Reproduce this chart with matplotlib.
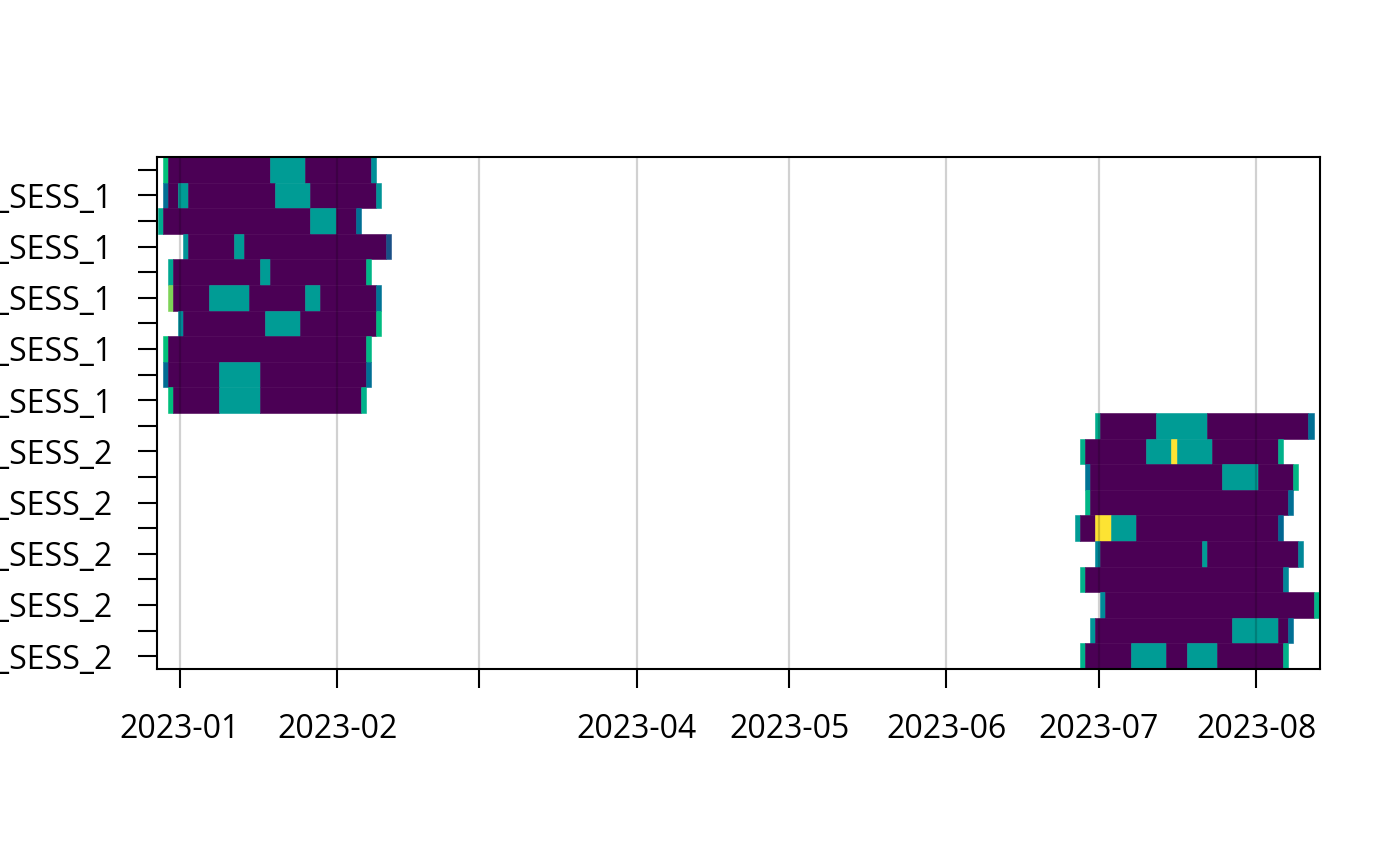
import datetime as dt

import numpy as np
import matplotlib
matplotlib.use("Agg")
import matplotlib.pyplot as plt
import matplotlib.dates as mdates
from matplotlib.colors import ListedColormap

plt.rcParams['font.family'] = ['Open Sans', 'DejaVu Sans']

# rows listed top to bottom
subjects = ["ID01", "ID02", "ID03", "ID04", "ID05", "ID06", "ID07", "ID08", "ID09", "ID10",
            "ID01", "ID02", "ID03", "ID04", "ID05", "ID06", "ID07", "ID08", "ID09", "ID10"]
sessions = ["SESS_1"] * 10 + ["SESS_2"] * 10

# first recorded day of every row (days run from the given hour)
row_start = [
    "2022-12-28 16:00", "2022-12-28 16:00", "2022-12-27 16:00", "2023-01-01 16:00",
    "2022-12-29 16:00", "2022-12-29 16:00", "2022-12-31 16:00", "2022-12-28 16:00",
    "2022-12-28 16:00", "2022-12-29 16:00",
    "2023-06-30 08:00", "2023-06-27 08:00", "2023-06-28 08:00", "2023-06-28 08:00",
    "2023-06-26 08:00", "2023-06-30 08:00", "2023-06-27 08:00", "2023-07-01 08:00",
    "2023-06-29 08:00", "2023-06-27 08:00",
]

# consecutive runs of days (length in days) and the value of each run
run_days = [
    [1, 20, 7, 13, 1],
    [1, 2, 2, 17, 7, 13, 1],
    [1, 29, 5, 4, 1],
    [1, 9, 2, 28, 1],
    [1, 17, 2, 19, 1],
    [1, 7, 8, 11, 3, 11, 1],
    [1, 16, 7, 15, 1],
    [1, 39, 1],
    [1, 10, 8, 21, 1],
    [1, 9, 8, 20, 1],
    [1, 11, 10, 20, 1],
    [1, 12, 5, 1, 7, 13, 1],
    [1, 26, 7, 7, 1],
    [1, 39, 1],
    [1, 3, 3, 5, 28, 1],
    [1, 20, 1, 18, 1],
    [1, 39, 1],
    [1, 41, 1],
    [1, 27, 9, 2, 1],
    [1, 9, 7, 4, 6, 13, 1],
]
run_vals = [
    [0.68, 0, 0.5, 0, 0.45],
    [0.33, 0, 0.5, 0, 0.5, 0, 0.47],
    [0.57, 0, 0.5, 0, 0.33],
    [0.47, 0, 0.5, 0, 0.22],
    [0.55, 0, 0.5, 0, 0.62],
    [0.80, 0, 0.5, 0, 0.5, 0, 0.35],
    [0.43, 0, 0.5, 0, 0.65],
    [0.68, 0, 0.63],
    [0.32, 0, 0.5, 0, 0.33],
    [0.67, 0, 0.5, 0, 0.60],
    [0.58, 0, 0.5, 0, 0.33],
    [0.60, 0, 0.5, 1.0, 0.5, 0, 0.60],
    [0.35, 0, 0.5, 0, 0.63],
    [0.62, 0, 0.33],
    [0.50, 0, 1.0, 0.5, 0, 0.30],
    [0.42, 0, 0.5, 0, 0.42],
    [0.60, 0, 0.42],
    [0.43, 0, 0.62],
    [0.47, 0, 0.5, 0, 0.33],
    [0.60, 0, 0.5, 0, 0.5, 0, 0.60],
]

month_ticks = ["2023-01-01", "2023-02-01", "2023-03-01", "2023-04-01",
               "2023-05-01", "2023-06-01", "2023-07-01", "2023-08-01"]
month_labels = ["2023-01", "2023-02", "", "2023-04", "2023-05", "2023-06", "2023-07", "2023-08"]


def hcl_viridis(n=256):
    # same construction as R's hcl.colors(n, "viridis")
    i = np.linspace(1, 0, n)
    h = np.deg2rad(75 - (75 - 300) * i)
    c = 95 - (95 - 40) * i
    l = 90 - (90 - 15) * i ** 1.1
    u, v = c * np.cos(h), c * np.sin(h)
    xn, yn, zn = 95.047, 100.0, 108.883
    un = 4 * xn / (xn + 15 * yn + 3 * zn)
    vn = 9 * yn / (xn + 15 * yn + 3 * zn)
    y = np.where(l > 8, yn * ((l + 16) / 116) ** 3, yn * l / (29 / 3) ** 3)
    up = u / (13 * l) + un
    vp = v / (13 * l) + vn
    x = 9 * y * up / (4 * vp)
    z = y * (12 - 3 * up - 20 * vp) / (4 * vp)
    x, y, z = x / 100, y / 100, z / 100
    r = 3.240479 * x - 1.537150 * y - 0.498535 * z
    g = -0.969256 * x + 1.875992 * y + 0.041556 * z
    b = 0.055648 * x - 0.204043 * y + 1.057311 * z
    rgb = np.stack([r, g, b], axis=1)
    rgb = np.where(rgb <= 0.0031308, 12.92 * rgb, 1.055 * np.abs(rgb) ** (1 / 2.4) - 0.055)
    return ListedColormap(np.clip(rgb, 0, 1))


cmap = hcl_viridis()

fig = plt.figure(figsize=(7, 4.33), dpi=200)
ax = fig.add_axes([157 / 1400, 1 - 669 / 866, (1320 - 157) / 1400, (669 - 157) / 866])

n_rows = len(subjects)
for r in range(n_rows):
    y = n_rows - r
    t0 = mdates.date2num(dt.datetime.strptime(row_start[r], "%Y-%m-%d %H:%M"))
    lefts = t0 + np.concatenate([[0], np.cumsum(run_days[r])[:-1]])
    colors = [cmap(v) for v in run_vals[r]]
    ax.barh(y, run_days[r], left=lefts, height=1, color=colors,
            edgecolor=colors, linewidth=0.2)

jan1 = mdates.date2num(dt.datetime(2023, 1, 1))
ax.set_xlim(jan1 - 4.53, jan1 + 224.6)
ax.set_ylim(0.5, n_rows + 0.5)

tick_pos = [mdates.date2num(dt.datetime.strptime(t, "%Y-%m-%d")) for t in month_ticks]
ax.set_xticks(tick_pos)
ax.set_xticklabels(month_labels)

ylabels = [f"{s}_{ss}" for s, ss in zip(subjects, sessions)]
ax.set_yticks([n_rows - r for r in range(n_rows)])
ax.set_yticklabels([lab if (n_rows - r) % 2 == 1 else "" for r, lab in enumerate(ylabels)])

ax.grid(axis='x', color='black', alpha=0.18, linewidth=0.8)
ax.grid(axis='y', visible=False)
ax.set_axisbelow(False)

for sp in ax.spines.values():
    sp.set_linewidth(0.75)
    sp.set_color('black')
ax.tick_params(axis='both', length=6.8, width=0.75, labelsize=11.5, color='black')
ax.tick_params(axis='x', pad=9)
ax.tick_params(axis='y', pad=9)

fig.savefig("out.png", dpi=200)
